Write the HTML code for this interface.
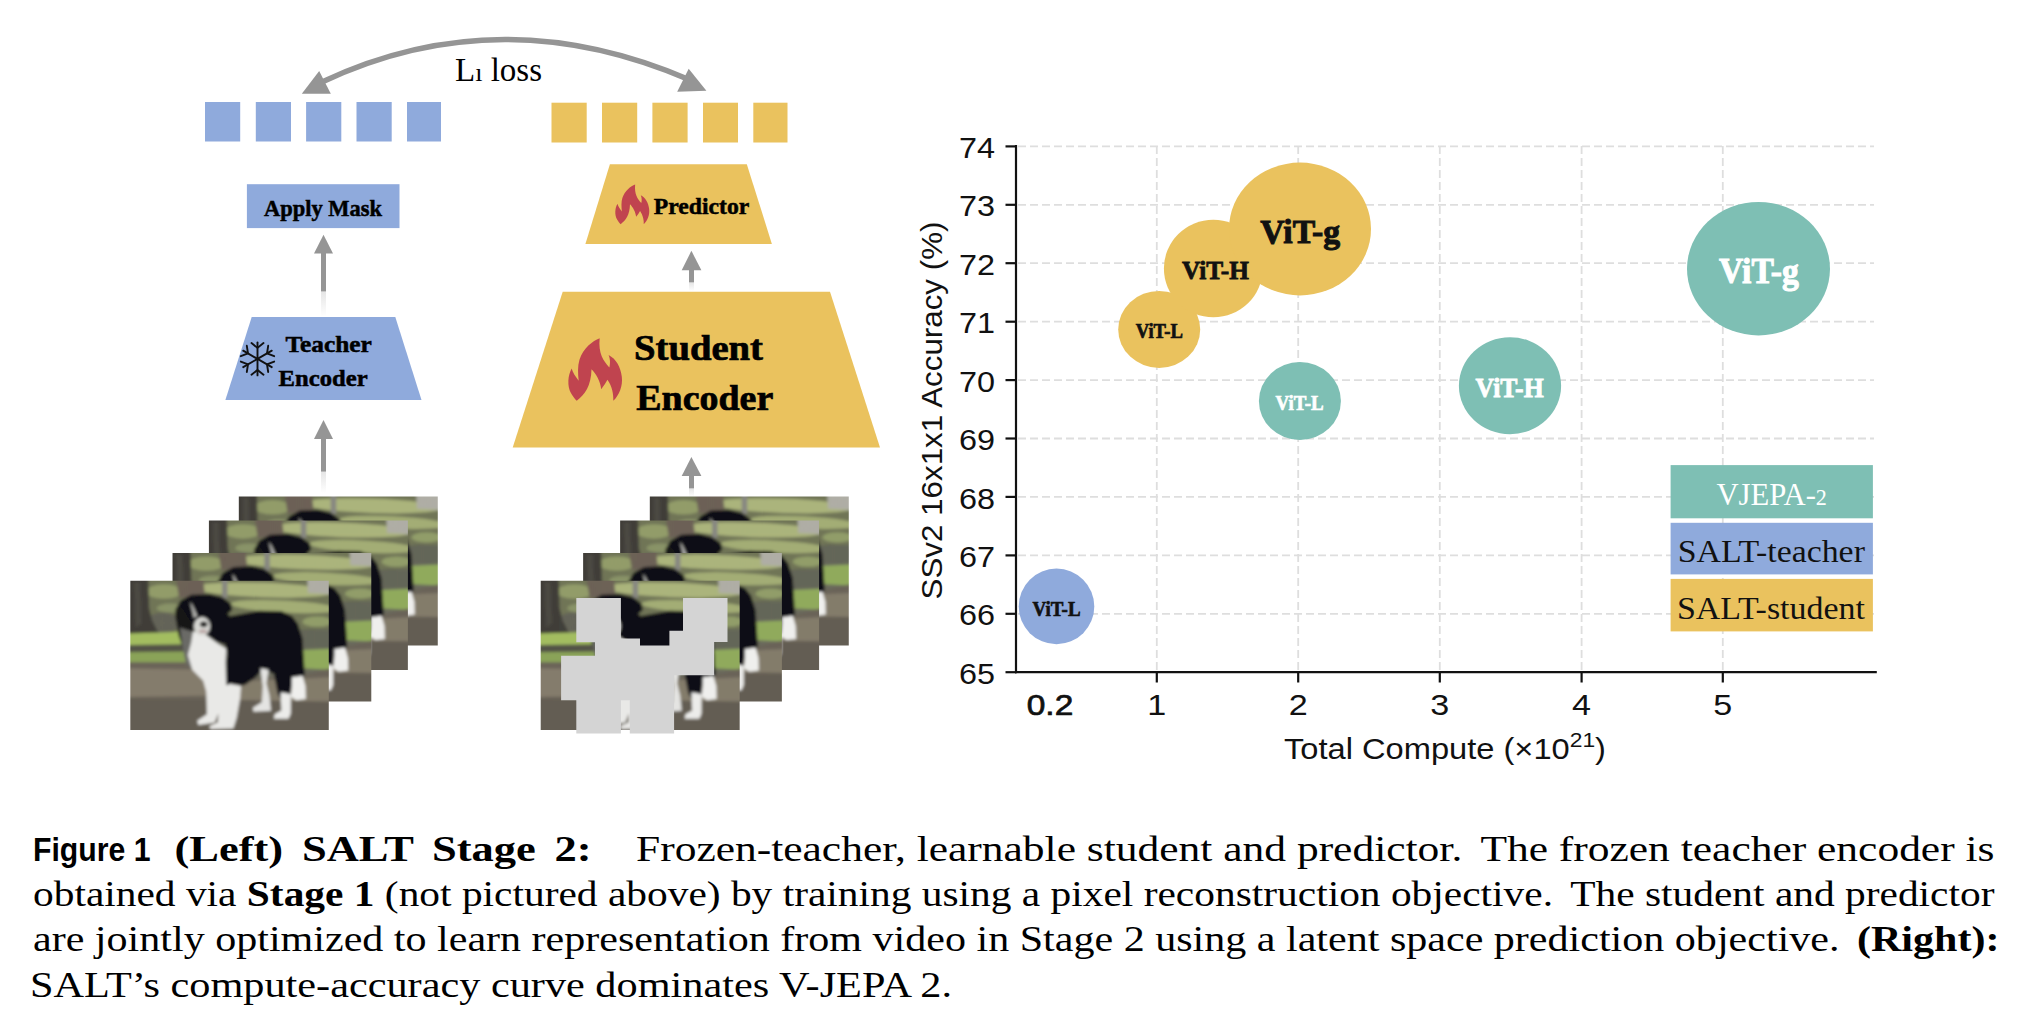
<!DOCTYPE html>
<html><head><meta charset="utf-8">
<style>
html,body{margin:0;padding:0;background:#fff;}
body{width:2034px;height:1024px;position:relative;overflow:hidden;}
svg{position:absolute;left:0;top:0;}
.serif{font-family:"Liberation Serif",serif;}
.sans{font-family:"Liberation Sans",sans-serif;}
</style></head>
<body>
<svg width="2034" height="1024" viewBox="0 0 2034 1024">
<defs>
  <pattern id="mesh" width="26" height="26" patternUnits="userSpaceOnUse"><path d="M0 0 L26 26 M26 0 L0 26" stroke="#4a4a44" stroke-width="3" opacity="0.35"/></pattern>
  <filter id="soft" x="0" y="0" width="1" height="1"><feGaussianBlur stdDeviation="9"/></filter>
  <linearGradient id="fade" x1="0" y1="0" x2="0" y2="1">
    <stop offset="0" stop-color="#959595"/>
    <stop offset="0.6" stop-color="#959595"/>
    <stop offset="0.62" stop-color="#e6e6e6"/>
    <stop offset="1" stop-color="#ffffff"/>
  </linearGradient>
</defs>

<!-- ===== L1 loss arc ===== -->
<path d="M 322 82 Q 500 -2 690 80" fill="none" stroke="#959595" stroke-width="5.4"/>
<polygon points="301.8,93.8 330.8,93.8 319.2,70.9" fill="#959595"/>
<polygon points="677.2,91.7 706.4,90.8 688.7,68.7" fill="#959595"/>
<text class="serif" x="455" y="81" font-size="33" textLength="87" lengthAdjust="spacingAndGlyphs">L<tspan font-size="26">ı</tspan> loss</text>

<!-- token squares -->
<g fill="#8FAADC">
  <rect x="205" y="102" width="35.2" height="39.5"/>
  <rect x="255.8" y="102" width="35.2" height="39.5"/>
  <rect x="306.1" y="102" width="35.2" height="39.5"/>
  <rect x="356.5" y="102" width="35.2" height="39.5"/>
  <rect x="407" y="102" width="34" height="39.5"/>
</g>
<g fill="#EAC25E">
  <rect x="551.5" y="102.7" width="35.2" height="39.8"/>
  <rect x="602" y="102.7" width="35.2" height="39.8"/>
  <rect x="652.4" y="102.7" width="35.2" height="39.8"/>
  <rect x="703" y="102.7" width="35" height="39.8"/>
  <rect x="753.3" y="102.7" width="34.2" height="39.8"/>
</g>

<!-- Apply mask -->
<rect x="246.9" y="184.2" width="152.6" height="43.9" fill="#8FAADC"/>
<text class="serif" x="264" y="216.4" font-size="23" font-weight="bold" stroke="#000" stroke-width="0.5" textLength="118" lengthAdjust="spacingAndGlyphs">Apply Mask</text>

<!-- teacher arrows -->
<rect x="321" y="252" width="5" height="64.5" fill="url(#fade)"/>
<polygon points="314,253.5 333,253.5 323.5,234.7" fill="#959595"/>
<rect x="321" y="438" width="5" height="55" fill="url(#fade)"/>
<polygon points="314,439 333,439 323.5,420" fill="#959595"/>

<!-- Teacher encoder -->
<polygon points="251.7,317 395.3,317 421.5,400 225.4,400" fill="#8FAADC"/>
<text class="serif" font-size="23" font-weight="bold" stroke="#000" stroke-width="0.5">
  <tspan x="285.4" y="352" textLength="86" lengthAdjust="spacingAndGlyphs">Teacher</tspan>
  <tspan x="278.6" y="385.6" textLength="89" lengthAdjust="spacingAndGlyphs">Encoder</tspan>
</text>
<g id="snow" stroke="#111" stroke-width="1.9" stroke-linecap="round" fill="none" transform="translate(257.5,358.9)">
  <g id="arm">
    <line x1="0" y1="0" x2="0" y2="-16.5"/>
    <polyline points="-6,-15.8 0,-11 6,-15.8"/>
  </g>
  <use href="#arm" transform="rotate(60)"/>
  <use href="#arm" transform="rotate(120)"/>
  <use href="#arm" transform="rotate(180)"/>
  <use href="#arm" transform="rotate(240)"/>
  <use href="#arm" transform="rotate(300)"/>
</g>

<!-- Predictor -->
<polygon points="609.9,164.2 746.8,164.2 771.9,243.9 585.4,243.9" fill="#EAC25E"/>
<text class="serif" x="653.8" y="214.2" font-size="23" font-weight="bold" stroke="#000" stroke-width="0.5" textLength="95.5" lengthAdjust="spacingAndGlyphs">Predictor</text>

<!-- student arrows -->
<rect x="689" y="269" width="5" height="22" fill="url(#fade)"/>
<polygon points="681.7,270.2 701.4,270.2 691.4,250.8" fill="#959595"/>
<rect x="689" y="475" width="5" height="22" fill="url(#fade)"/>
<polygon points="681.7,476 701.4,476 691.4,457" fill="#959595"/>

<!-- Student encoder -->
<polygon points="562.7,291.7 830,291.7 880,447.6 512.7,447.6" fill="#EAC25E"/>
<text class="serif" font-size="36" font-weight="bold" stroke="#000" stroke-width="0.7">
  <tspan x="634" y="359.5" textLength="129" lengthAdjust="spacingAndGlyphs">Student</tspan>
  <tspan x="636.3" y="409.5" textLength="137" lengthAdjust="spacingAndGlyphs">Encoder</tspan>
</text>

<!-- flames -->
<symbol id="flame" viewBox="90 95 720 830">
  <path d="M 510 105 C 420 140, 300 230, 250 380 C 225 460, 230 560, 240 650 C 200 600, 160 540, 150 495 C 100 580, 90 720, 140 810 C 170 860, 200 900, 215 910 C 320 830, 400 720, 405 505 C 460 560, 520 660, 530 760 C 560 720, 590 680, 610 640 C 670 720, 690 830, 685 910 C 760 840, 810 720, 795 600 C 780 470, 720 370, 625 320 C 650 380, 645 440, 635 480 C 560 400, 490 300, 510 105 Z" fill="#C0444F"/>
</symbol>
<use href="#flame" x="567" y="337.5" width="56" height="64.5"/>
<use href="#flame" x="614.5" y="183.9" width="35.4" height="41.2"/>

<symbol id="photo" viewBox="15 18 1320 992" preserveAspectRatio="none">
 <g filter="url(#soft)">
  <rect x="0" y="0" width="1350" height="1030" fill="#6a6a5c"/>
  <!-- upper background -->
  <rect x="0" y="0" width="1350" height="390" fill="#737858"/>
  <ellipse cx="900" cy="80" rx="460" ry="48" fill="#b3bd80" transform="rotate(2 900 80)"/>
  <ellipse cx="1040" cy="190" rx="360" ry="40" fill="#aab579" transform="rotate(3 1040 190)"/>
  <ellipse cx="820" cy="295" rx="260" ry="36" fill="#a2ae70" transform="rotate(2 820 295)"/>
  <ellipse cx="240" cy="90" rx="120" ry="48" fill="#98a36c"/>
  <ellipse cx="280" cy="200" rx="90" ry="30" fill="#8e996a"/>
  <ellipse cx="1260" cy="290" rx="100" ry="34" fill="#97a46c"/>
  <ellipse cx="230" cy="300" rx="110" ry="70" fill="#66665a"/>
  <ellipse cx="1220" cy="400" rx="170" ry="60" fill="#606256"/>
  <path d="M 1090 350 L 1350 340 L 1350 470 L 1130 470 Z" fill="#66685a"/>
  <!-- tree trunk -->
  <path d="M 0 0 L 135 0 L 140 200 L 160 280 L 195 350 L 225 392 L 0 398 Z" fill="#3f3d38"/>
  <path d="M 40 30 L 80 30 L 90 300 L 50 330 Z" fill="#4c4943"/>
  <!-- bench -->
  <path d="M 318 0 L 500 0 L 510 105 L 340 135 Z" fill="#6f6358"/>
  <!-- fence post -->
  <rect x="625" y="0" width="36" height="135" fill="#8c8c86"/>
  <!-- stone -->
  <path d="M 1192 0 L 1350 0 L 1350 108 L 1196 100 Z" fill="#b7b6ad"/>
  <rect x="135" y="0" width="1215" height="460" fill="url(#mesh)"/>
  <!-- grass bands left -->
  <path d="M 0 368 L 375 358 L 385 445 L 0 450 Z" fill="#a3bd60"/>
  <path d="M 0 445 L 385 440 L 395 495 L 0 500 Z" fill="#525247"/>
  <path d="M 0 493 L 395 488 L 410 565 L 0 565 Z" fill="#8aa358"/>
  <!-- right grass -->
  <path d="M 1130 480 L 1350 470 L 1350 610 L 1150 600 Z" fill="#90aa5c"/>
  <!-- ground -->
  <path d="M 0 560 L 420 560 L 470 700 L 1180 640 L 1350 600 L 1350 1030 L 0 1030 Z" fill="#6a6458"/>
  <path d="M 0 600 L 520 610 L 560 780 L 0 790 Z" fill="#847c6c"/>
  <path d="M 700 690 L 1350 660 L 1350 830 L 720 840 Z" fill="#837b6b"/>
  <path d="M 0 800 L 1350 820 L 1350 1030 L 0 1030 Z" fill="#635d53"/>
  <!-- dog black: head + body -->
  <path d="M 318 205 L 350 150 L 420 112 L 540 106 L 630 128 L 686 172 L 692 214 L 662 240 L 680 252 L 873 218 L 1019 220 L 1092 255 L 1130 305 L 1160 400 L 1168 520 L 1175 640 L 1130 700 L 1090 705 L 1077 804 L 1014 800 L 994 765 L 970 640 L 900 600 L 850 660 L 780 710 L 751 716 L 680 705 L 655 712 L 650 560 L 660 500 L 645 442 L 580 420 L 524 380 L 460 352 L 432 320 L 380 250 Z" fill="#0e0f12"/>
  <!-- gray neck fur -->
  <path d="M 316 205 L 360 200 L 445 330 L 436 440 L 405 520 L 370 480 L 336 380 L 314 260 Z" fill="#141414"/>
  <path d="M 345 330 L 440 360 L 432 450 L 405 520 L 427 609 L 384 565 L 360 440 Z" fill="#6a6a66"/>
  <!-- chest + front legs white -->
  <path d="M 432 354 L 524 382 L 600 438 L 652 470 L 648 560 L 652 712 L 680 705 L 751 718 L 745 800 L 722 930 L 700 1000 L 549 1004 L 540 985 L 598 958 L 600 900 L 576 960 L 468 976 L 460 948 L 525 905 L 520 755 L 500 682 L 427 609 L 398 512 L 420 430 Z" fill="#e9e9e7"/>
  <!-- blaze + muzzle -->
  <path d="M 412 158 C 428 175, 448 220, 462 255 L 436 266 C 430 225, 418 190, 412 158 Z" fill="#b4b4b0"/>
  <ellipse cx="492" cy="322" rx="54" ry="62" fill="#d8d8d4"/>
  <ellipse cx="503" cy="308" rx="25" ry="19" fill="#141414"/>
  <ellipse cx="498" cy="354" rx="28" ry="8" fill="#b09292"/>
  <!-- hind legs -->
  <path d="M 880 600 L 935 610 L 920 700 L 940 780 L 951 882 L 834 888 L 830 862 L 890 826 L 896 720 Z" fill="#e4e4e2"/>
  <path d="M 1014 760 L 1082 770 L 1082 900 L 1067 935 L 970 935 L 975 905 L 1020 880 Z" fill="#ececea"/>
  <!-- tail -->
  <path d="M 1090 660 L 1160 650 L 1180 720 L 1182 804 L 1120 812 L 1082 790 L 1090 720 Z" fill="#efefed"/>
 </g>
</symbol>
<g id="photos">
  <use href="#photo" x="238.8" y="496.5" width="199" height="149"/>
  <use href="#photo" x="208.9" y="520.6" width="199" height="149.3"/>
  <use href="#photo" x="172.5" y="552.9" width="198.8" height="148.5"/>
  <use href="#photo" x="130.3" y="580.7" width="198.5" height="149.3"/>
  <use href="#photo" x="649.8" y="496.5" width="199" height="149"/>
  <use href="#photo" x="620.1" y="520.6" width="199" height="149.3"/>
  <use href="#photo" x="583.1" y="552.9" width="198.8" height="148.5"/>
  <use href="#photo" x="540.7" y="580.7" width="199" height="149.3"/>
  <polygon fill="#D4D4D4" points="576.3,598 620.9,598 620.9,638.6 640,638.6 640,645.6 669.4,645.6 669.4,630.8 683,630.8 683,598 727.5,598 727.5,641.9 714.2,641.9 714.2,675.3 674.1,675.3 674.1,733.6 629.8,733.6 629.8,700.3 620.9,700.3 620.9,733.6 576.3,733.6 576.3,700.3 561.1,700.3 561.1,655.8 595,655.8 595,642.2 576.3,642.2"/>
</g>

<!-- ===== CHART ===== -->
<g id="grid" stroke="#dedede" stroke-width="1.8" stroke-dasharray="8 4" fill="none">
  <line x1="1018" y1="146.4" x2="1874" y2="146.4"/>
  <line x1="1018" y1="204.8" x2="1874" y2="204.8"/>
  <line x1="1018" y1="263.2" x2="1874" y2="263.2"/>
  <line x1="1018" y1="321.7" x2="1874" y2="321.7"/>
  <line x1="1018" y1="380.1" x2="1874" y2="380.1"/>
  <line x1="1018" y1="438.5" x2="1874" y2="438.5"/>
  <line x1="1018" y1="496.9" x2="1874" y2="496.9"/>
  <line x1="1018" y1="555.4" x2="1874" y2="555.4"/>
  <line x1="1018" y1="613.8" x2="1874" y2="613.8"/>
  <line x1="1156.8" y1="146" x2="1156.8" y2="671"/>
  <line x1="1298.2" y1="146" x2="1298.2" y2="671"/>
  <line x1="1439.8" y1="146" x2="1439.8" y2="671"/>
  <line x1="1581.6" y1="146" x2="1581.6" y2="671"/>
  <line x1="1722.8" y1="146" x2="1722.8" y2="671"/>
</g>
<!-- axes -->
<g stroke="#111" stroke-width="2.2" fill="none">
  <line x1="1016" y1="145" x2="1016" y2="673.3"/>
  <line x1="1015" y1="672.2" x2="1876.8" y2="672.2"/>
  <line x1="1005.5" y1="146.4" x2="1016" y2="146.4"/>
  <line x1="1005.5" y1="204.8" x2="1016" y2="204.8"/>
  <line x1="1005.5" y1="263.2" x2="1016" y2="263.2"/>
  <line x1="1005.5" y1="321.7" x2="1016" y2="321.7"/>
  <line x1="1005.5" y1="380.1" x2="1016" y2="380.1"/>
  <line x1="1005.5" y1="438.5" x2="1016" y2="438.5"/>
  <line x1="1005.5" y1="496.9" x2="1016" y2="496.9"/>
  <line x1="1005.5" y1="555.4" x2="1016" y2="555.4"/>
  <line x1="1005.5" y1="613.8" x2="1016" y2="613.8"/>
  <line x1="1005.5" y1="672.2" x2="1016" y2="672.2"/>
  <line x1="1156.8" y1="672" x2="1156.8" y2="682.5"/>
  <line x1="1298.2" y1="672" x2="1298.2" y2="682.5"/>
  <line x1="1439.8" y1="672" x2="1439.8" y2="682.5"/>
  <line x1="1581.6" y1="672" x2="1581.6" y2="682.5"/>
  <line x1="1722.8" y1="672" x2="1722.8" y2="682.5"/>
</g>
<g class="sans" font-size="29" fill="#111" text-anchor="end">
  <text x="995" y="158" textLength="36" lengthAdjust="spacingAndGlyphs">74</text>
  <text x="995" y="216.4" textLength="36" lengthAdjust="spacingAndGlyphs">73</text>
  <text x="995" y="274.8" textLength="36" lengthAdjust="spacingAndGlyphs">72</text>
  <text x="995" y="333.3" textLength="36" lengthAdjust="spacingAndGlyphs">71</text>
  <text x="995" y="391.7" textLength="36" lengthAdjust="spacingAndGlyphs">70</text>
  <text x="995" y="450.1" textLength="36" lengthAdjust="spacingAndGlyphs">69</text>
  <text x="995" y="508.5" textLength="36" lengthAdjust="spacingAndGlyphs">68</text>
  <text x="995" y="567" textLength="36" lengthAdjust="spacingAndGlyphs">67</text>
  <text x="995" y="625.4" textLength="36" lengthAdjust="spacingAndGlyphs">66</text>
  <text x="995" y="683.8" textLength="36" lengthAdjust="spacingAndGlyphs">65</text>
</g>
<g class="sans" font-size="29" fill="#111" text-anchor="middle">
  <text x="1050" y="715" stroke="#111" stroke-width="0.7" textLength="46.5" lengthAdjust="spacingAndGlyphs">0.2</text>
  <text x="1156.8" y="715" textLength="19" lengthAdjust="spacingAndGlyphs">1</text>
  <text x="1298.2" y="715" textLength="19" lengthAdjust="spacingAndGlyphs">2</text>
  <text x="1439.8" y="715" textLength="19" lengthAdjust="spacingAndGlyphs">3</text>
  <text x="1581.6" y="715" textLength="19" lengthAdjust="spacingAndGlyphs">4</text>
  <text x="1722.8" y="715" textLength="19" lengthAdjust="spacingAndGlyphs">5</text>
</g>
<text class="sans" x="1284" y="759.3" font-size="30" fill="#111" textLength="322" lengthAdjust="spacingAndGlyphs">Total Compute (×10<tspan font-size="21" dy="-12">21</tspan><tspan dy="12">)</tspan></text>
<text class="sans" font-size="30" fill="#111" transform="translate(941.8,599.5) rotate(-90)" textLength="378" lengthAdjust="spacingAndGlyphs">SSv2 16x1x1 Accuracy (%)</text>

<!-- bubbles -->
<g class="serif" font-weight="bold" text-anchor="middle">
  <ellipse cx="1056.5" cy="606.4" rx="37.8" ry="37.8" fill="#8FAADC"/>
  <text x="1056.5" y="616" font-size="22" fill="#111" stroke="#111" stroke-width="0.7" textLength="48" lengthAdjust="spacingAndGlyphs">ViT-L</text>

  <ellipse cx="1159.2" cy="329.4" rx="41" ry="38.5" fill="#EAC25E"/>
  <ellipse cx="1213.3" cy="268.5" rx="49.4" ry="48.8" fill="#EAC25E"/>
  <ellipse cx="1300" cy="229" rx="71" ry="66.4" fill="#EAC25E"/>
  <text x="1159.3" y="337.9" font-size="20.5" fill="#111" stroke="#111" stroke-width="0.7" textLength="47.3" lengthAdjust="spacingAndGlyphs">ViT-L</text>
  <text x="1215.4" y="279.3" font-size="26" fill="#111" stroke="#111" stroke-width="0.8" textLength="67" lengthAdjust="spacingAndGlyphs">ViT-H</text>
  <text x="1300.2" y="243.2" font-size="34.5" fill="#111" stroke="#111" stroke-width="1" textLength="80" lengthAdjust="spacingAndGlyphs">ViT-g</text>

  <ellipse cx="1299.9" cy="401" rx="41" ry="39" fill="#7EBFB4"/>
  <text x="1299.6" y="409.6" font-size="20.7" fill="#fff" stroke="#fff" stroke-width="0.7" textLength="48" lengthAdjust="spacingAndGlyphs">ViT-L</text>
  <ellipse cx="1510" cy="385.7" rx="51.1" ry="48.5" fill="#7EBFB4"/>
  <text x="1509.6" y="396.9" font-size="26.8" fill="#fff" stroke="#fff" stroke-width="0.8" textLength="68" lengthAdjust="spacingAndGlyphs">ViT-H</text>
  <ellipse cx="1758.5" cy="268.7" rx="71.5" ry="66.7" fill="#7EBFB4"/>
  <text x="1758.9" y="283.2" font-size="35.5" fill="#fff" stroke="#fff" stroke-width="1" textLength="79.6" lengthAdjust="spacingAndGlyphs">ViT-g</text>
</g>

<!-- legend -->
<rect x="1670.6" y="465.1" width="202.3" height="53.2" fill="#7EBFB4"/>
<rect x="1670.6" y="522.8" width="202.3" height="51.6" fill="#8FAADC"/>
<rect x="1670.6" y="578.9" width="202.3" height="52.5" fill="#EAC25E"/>
<g class="serif" font-size="32">
  <text x="1716.4" y="505.4" fill="#fff" textLength="110.5" lengthAdjust="spacingAndGlyphs">VJEPA-<tspan font-size="23">2</tspan></text>
  <text x="1677.7" y="562.1" fill="#111" textLength="187.2" lengthAdjust="spacingAndGlyphs">SALT-teacher</text>
  <text x="1677" y="619.1" fill="#111" textLength="187.9" lengthAdjust="spacingAndGlyphs">SALT-student</text>
</g>
</svg>

<!-- caption -->
<svg width="2034" height="1024" viewBox="0 0 2034 1024" style="position:absolute;left:0;top:0">
<g fill="#000">
<text class="sans" x="33" y="861.3" font-size="32.5" font-weight="bold" textLength="117.5" lengthAdjust="spacingAndGlyphs">Figure 1</text>
<text class="serif" x="174.5" y="861.3" font-size="35" font-weight="bold" textLength="417" lengthAdjust="spacingAndGlyphs" word-spacing="6">(Left) SALT Stage 2:</text>
<text class="serif" x="636" y="861.3" font-size="35" textLength="1358.5" lengthAdjust="spacingAndGlyphs">Frozen-teacher, learnable student and predictor.&#8196;&#8202;The frozen teacher encoder is</text>
<text class="serif" x="33" y="906" font-size="35" textLength="1961.5" lengthAdjust="spacingAndGlyphs">obtained via <tspan font-weight="bold">Stage 1</tspan> (not pictured above) by training using a pixel reconstruction objective.&#8196;&#8202;The student and predictor</text>
<text class="serif" x="33" y="951" font-size="35" textLength="1966.5" lengthAdjust="spacingAndGlyphs">are jointly optimized to learn representation from video in Stage 2 using a latent space prediction objective.&#8196;&#8202;<tspan font-weight="bold">(Right):</tspan></text>
<text class="serif" x="30" y="997" font-size="35" textLength="922" lengthAdjust="spacingAndGlyphs">SALT’s compute-accuracy curve dominates V-JEPA 2.</text>
</g>
</svg>
</body></html>
